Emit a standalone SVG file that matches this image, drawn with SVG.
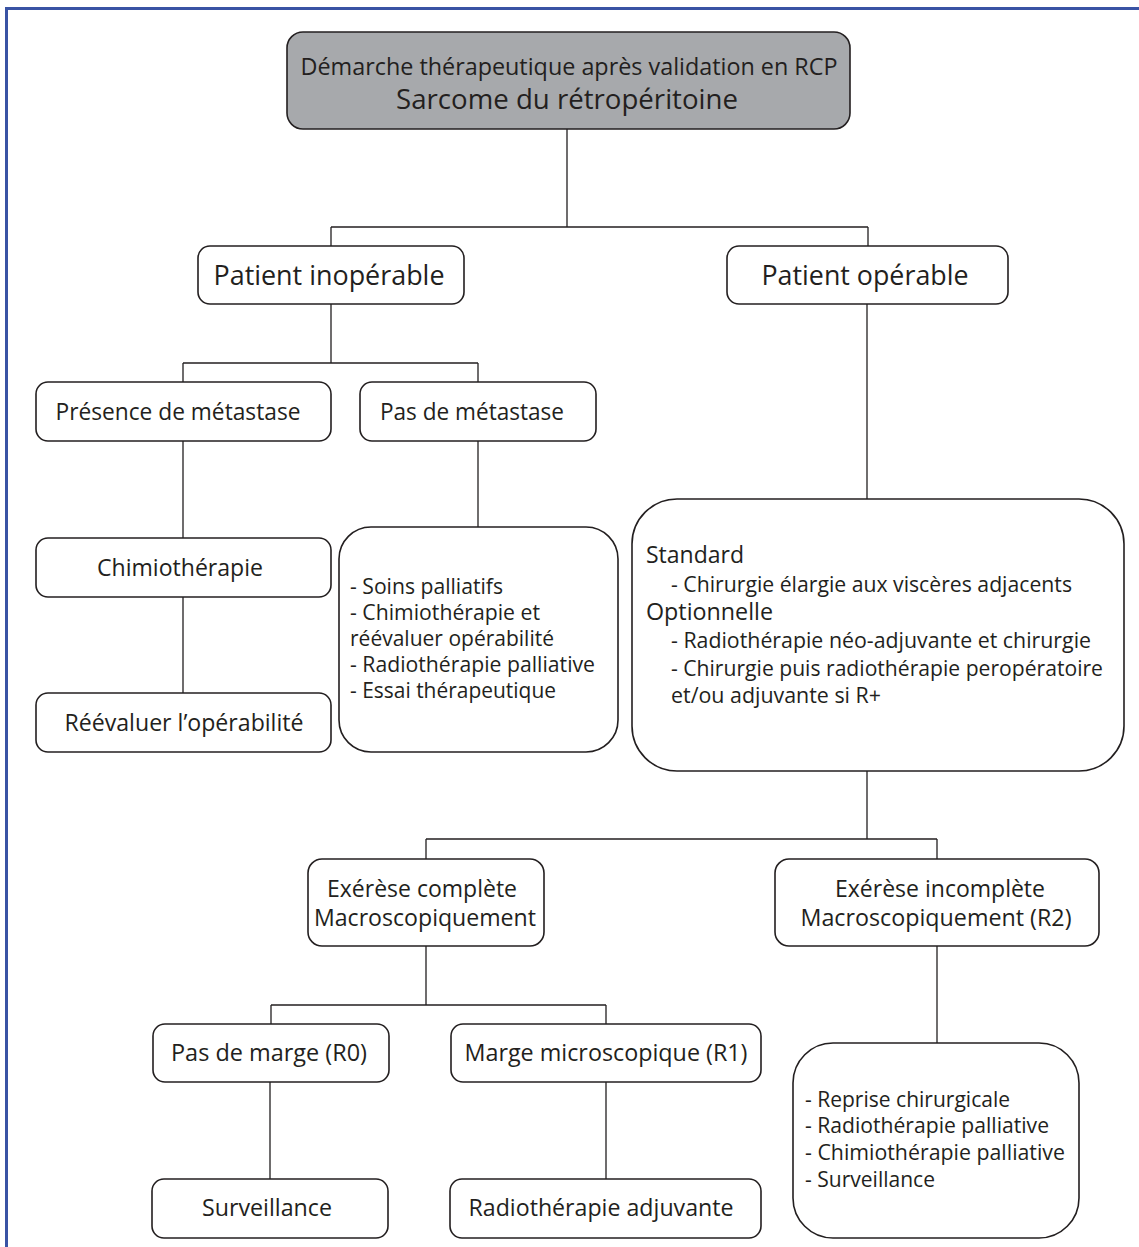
<svg xmlns="http://www.w3.org/2000/svg" width="1139" height="1247" viewBox="0 0 1139 1247">
<style>
.bg{fill:#ffffff}
.frame{fill:none;stroke:#3953a4;stroke-width:3}
.box{fill:#ffffff;stroke:#231f20;stroke-width:1.6}
.head{fill:#a7a9ac;stroke:#231f20;stroke-width:1.6}
.conn path{fill:none;stroke:#231f20;stroke-width:1.3}
text{font-family:"Open Sans","Noto Sans","Liberation Sans",sans-serif;fill:#231f20}
.c{text-anchor:middle}
.s21{font-size:21px}
.s22{font-size:23px}
.s26{font-size:28px}
.s27{font-size:28px}
.s23{font-size:23px}
</style>
<rect class="bg" x="0" y="0" width="1139" height="1247"/>
<path class="frame" d="M6.5,1247 V8.5 H1139"/>

<g id="connectors" class="conn">
<path d="M567,129 V227 M331,227 H868 M331,227 V246 M868,227 V246"/>
<path d="M331,304 V363 M183,363 H478 M183,363 V382 M478,363 V382"/>
<path d="M183,441 V538 M183,597 V693"/>
<path d="M478,441 V527"/>
<path d="M867,304 V499"/>
<path d="M867,771 V839 M426,839 H937 M426,839 V859 M937,839 V859"/>
<path d="M426,946 V1005 M271,1005 H606 M271,1005 V1024 M606,1005 V1024"/>
<path d="M270,1082 V1179 M606,1082 V1179"/>
<path d="M937,946 V1043"/>
</g>

<g id="n-top">
<rect class="head" x="287" y="32" width="563" height="97" rx="16"/>
<text class="c s23" x="569" y="75" textLength="537" lengthAdjust="spacingAndGlyphs">Démarche thérapeutique après validation en RCP</text>
<text class="c s27" x="567" y="109" textLength="342" lengthAdjust="spacingAndGlyphs">Sarcome du rétropéritoine</text>
</g>

<g id="n-inoperable">
<rect class="box" x="198" y="246" width="266" height="58" rx="12"/>
<text class="c s26" x="329" y="285" textLength="231" lengthAdjust="spacingAndGlyphs">Patient inopérable</text>
</g>

<g id="n-operable">
<rect class="box" x="727" y="246" width="281" height="58" rx="12"/>
<text class="c s26" x="865" y="285" textLength="207" lengthAdjust="spacingAndGlyphs">Patient opérable</text>
</g>

<g id="n-metastase">
<rect class="box" x="36" y="382" width="295" height="59" rx="12"/>
<text class="c s22" x="178" y="420" textLength="245" lengthAdjust="spacingAndGlyphs">Présence de métastase</text>
</g>

<g id="n-pas-metastase">
<rect class="box" x="360" y="382" width="236" height="59" rx="12"/>
<text class="c s22" x="472" y="420" textLength="184" lengthAdjust="spacingAndGlyphs">Pas de métastase</text>
</g>

<g id="n-chimio">
<rect class="box" x="36" y="538" width="295" height="59" rx="12"/>
<text class="c s22" x="180" y="576" textLength="166" lengthAdjust="spacingAndGlyphs">Chimiothérapie</text>
</g>

<g id="n-reevaluer">
<rect class="box" x="36" y="693" width="295" height="59" rx="12"/>
<text class="c s22" x="184" y="731" textLength="239" lengthAdjust="spacingAndGlyphs">Réévaluer l’opérabilité</text>
</g>

<g id="n-options-inop">
<rect class="box" x="339" y="527" width="279" height="225" rx="32"/>
<text class="s21" x="350" y="594" textLength="153" lengthAdjust="spacingAndGlyphs">- Soins palliatifs</text>
<text class="s21" x="350" y="620" textLength="190" lengthAdjust="spacingAndGlyphs">- Chimiothérapie et</text>
<text class="s21" x="350" y="646" textLength="204" lengthAdjust="spacingAndGlyphs">réévaluer opérabilité</text>
<text class="s21" x="350" y="672" textLength="245" lengthAdjust="spacingAndGlyphs">- Radiothérapie palliative</text>
<text class="s21" x="350" y="698" textLength="206" lengthAdjust="spacingAndGlyphs">- Essai thérapeutique</text>
</g>

<g id="n-options-op">
<rect class="box" x="632" y="499" width="492" height="272" rx="45"/>
<text class="s22" x="646" y="563" textLength="98" lengthAdjust="spacingAndGlyphs">Standard</text>
<text class="s21" x="671" y="592" textLength="401" lengthAdjust="spacingAndGlyphs">- Chirurgie élargie aux viscères adjacents</text>
<text class="s22" x="646" y="620" textLength="127" lengthAdjust="spacingAndGlyphs">Optionnelle</text>
<text class="s21" x="671" y="648" textLength="420" lengthAdjust="spacingAndGlyphs">- Radiothérapie néo-adjuvante et chirurgie</text>
<text class="s21" x="671" y="676" textLength="432" lengthAdjust="spacingAndGlyphs">- Chirurgie puis radiothérapie peropératoire</text>
<text class="s21" x="671" y="703" textLength="210" lengthAdjust="spacingAndGlyphs">et/ou adjuvante si R+</text>
</g>

<g id="n-exerese-complete">
<rect class="box" x="308" y="859" width="236" height="87" rx="14"/>
<text class="c s22" x="422" y="897" textLength="190" lengthAdjust="spacingAndGlyphs">Exérèse complète</text>
<text class="c s22" x="425" y="926" textLength="222" lengthAdjust="spacingAndGlyphs">Macroscopiquement</text>
</g>

<g id="n-exerese-incomplete">
<rect class="box" x="775" y="859" width="324" height="87" rx="14"/>
<text class="c s22" x="940" y="897" textLength="210" lengthAdjust="spacingAndGlyphs">Exérèse incomplète</text>
<text class="c s22" x="936" y="926" textLength="271" lengthAdjust="spacingAndGlyphs">Macroscopiquement (R2)</text>
</g>

<g id="n-r0">
<rect class="box" x="153" y="1024" width="236" height="58" rx="12"/>
<text class="c s22" x="269" y="1061" textLength="196" lengthAdjust="spacingAndGlyphs">Pas de marge (R0)</text>
</g>

<g id="n-r1">
<rect class="box" x="451" y="1024" width="310" height="58" rx="12"/>
<text class="c s22" x="606" y="1061" textLength="283" lengthAdjust="spacingAndGlyphs">Marge microscopique (R1)</text>
</g>

<g id="n-surveillance">
<rect class="box" x="152" y="1179" width="236" height="59" rx="12"/>
<text class="c s22" x="267" y="1216" textLength="130" lengthAdjust="spacingAndGlyphs">Surveillance</text>
</g>

<g id="n-radio-adj">
<rect class="box" x="450" y="1179" width="311" height="59" rx="12"/>
<text class="c s22" x="601" y="1216" textLength="265" lengthAdjust="spacingAndGlyphs">Radiothérapie adjuvante</text>
</g>

<g id="n-options-r2">
<rect class="box" x="793" y="1043" width="286" height="195" rx="40"/>
<text class="s21" x="805" y="1107" textLength="205" lengthAdjust="spacingAndGlyphs">- Reprise chirurgicale</text>
<text class="s21" x="805" y="1133" textLength="244" lengthAdjust="spacingAndGlyphs">- Radiothérapie palliative</text>
<text class="s21" x="805" y="1160" textLength="260" lengthAdjust="spacingAndGlyphs">- Chimiothérapie palliative</text>
<text class="s21" x="805" y="1187" textLength="130" lengthAdjust="spacingAndGlyphs">- Surveillance</text>
</g>
</svg>
